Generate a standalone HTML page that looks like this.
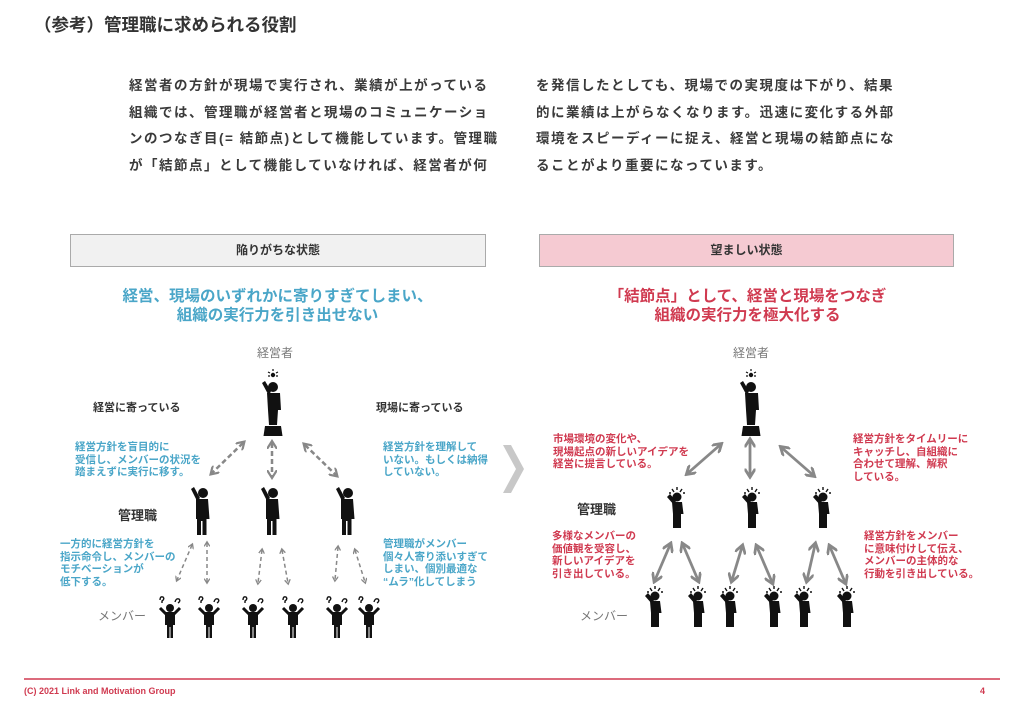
<!DOCTYPE html>
<html><head><meta charset="utf-8">
<style>
*{margin:0;padding:0;box-sizing:border-box}
body{width:1024px;height:709px;background:#fff;position:relative;overflow:hidden;font-family:"Liberation Sans","Noto Sans CJK JP",sans-serif;color:#333}
.a{position:absolute;white-space:nowrap}
.title{left:34px;top:12px;font-size:17.5px;font-weight:bold;color:#333}
.para{font-size:13.5px;font-weight:bold;line-height:26.5px;color:#3a3a3a;letter-spacing:1.5px}
.box{position:absolute;top:234px;height:33px;border:1.5px solid #aaa;font-size:12px;font-weight:bold;text-align:center;line-height:30px;color:#333}
.h{font-size:15.5px;font-weight:bold;text-align:center;line-height:19px}
.blue{color:#4aa6c8}
.red{color:#d03a50}
.s{font-size:10.5px;font-weight:bold;line-height:12.5px}
.g{font-size:12px;color:#777}
.lb{font-size:11px;font-weight:bold;color:#333}
.mg{font-size:13px;font-weight:bold;color:#333}
</style></head><body>
<div class="a title">（参考）管理職に求められる役割</div>
<div class="a para" style="left:129px;top:73px">経営者の方針が現場で実行され、業績が上がっている<br>組織では、管理職が経営者と現場のコミュニケーショ<br>ンのつなぎ目(= 結節点)として機能しています。管理職<br>が「結節点」として機能していなければ、経営者が何</div>
<div class="a para" style="left:536px;top:73px">を発信したとしても、現場での実現度は下がり、結果<br>的に業績は上がらなくなります。迅速に変化する外部<br>環境をスピーディーに捉え、経営と現場の結節点にな<br>ることがより重要になっています。</div>

<div class="box" style="left:70px;width:416px;background:#f1f1f1">陥りがちな状態</div>
<div class="box" style="left:539px;width:415px;background:#f5cad2">望ましい状態</div>

<div class="a h blue" style="left:60px;width:435px;top:287px">経営、現場のいずれかに寄りすぎてしまい、<br>組織の実行力を引き出せない</div>
<div class="a h red" style="left:530px;width:435px;top:287px">「結節点」として、経営と現場をつなぎ<br>組織の実行力を極大化する</div>

<div class="a g" style="left:257px;top:344px">経営者</div>
<div class="a g" style="left:733px;top:344px">経営者</div>
<div class="a lb" style="left:93px;top:399px">経営に寄っている</div>
<div class="a lb" style="left:376px;top:399px">現場に寄っている</div>
<div class="a s blue" style="left:75px;top:441px">経営方針を盲目的に<br>受信し、メンバーの状況を<br>踏まえずに実行に移す。</div>
<div class="a s blue" style="left:383px;top:441px">経営方針を理解して<br>いない。もしくは納得<br>していない。</div>
<div class="a mg" style="left:118px;top:505px">管理職</div>
<div class="a s blue" style="left:60px;top:538px">一方的に経営方針を<br>指示命令し、メンバーの<br>モチベーションが<br>低下する。</div>
<div class="a s blue" style="left:383px;top:538px">管理職がメンバー<br>個々人寄り添いすぎて<br>しまい、個別最適な<br>“ムラ”化してしまう</div>
<div class="a g" style="left:98px;top:607px">メンバー</div>

<div class="a s red" style="left:553px;top:433px">市場環境の変化や、<br>現場起点の新しいアイデアを<br>経営に提言している。</div>
<div class="a s red" style="left:853px;top:433px">経営方針をタイムリーに<br>キャッチし、自組織に<br>合わせて理解、解釈<br>している。</div>
<div class="a mg" style="left:577px;top:499px">管理職</div>
<div class="a s red" style="left:552px;top:530px">多様なメンバーの<br>価値観を受容し、<br>新しいアイデアを<br>引き出している。</div>
<div class="a s red" style="left:864px;top:530px">経営方針をメンバー<br>に意味付けして伝え、<br>メンバーの主体的な<br>行動を引き出している。</div>
<div class="a g" style="left:580px;top:607px">メンバー</div>

<svg class="a" style="left:0;top:0" width="1024" height="709" viewBox="0 0 1024 709">
<defs>
<marker id="ah" viewBox="0 0 10 10" refX="6" refY="5" markerWidth="4" markerHeight="4" orient="auto-start-reverse"><path d="M0,0 L8,5 L0,10" fill="none" stroke="#888" stroke-width="2.2"/></marker>
<marker id="ahs" viewBox="0 0 10 10" refX="6" refY="5" markerWidth="4" markerHeight="4" orient="auto-start-reverse"><path d="M0,0 L8,5 L0,10" fill="none" stroke="#888" stroke-width="2.5"/></marker>
<g id="body">
<circle cx="1" cy="5" r="5" fill="#111"/>
<path d="M-6,11 L6,11 L7.5,31 L4.5,31 L4.5,47 L0.5,47 L0.5,33 L-1,33 L-1,47 L-5,47 L-5,31 L-6,31 Z" fill="#111"/>
<path d="M-5,13 L-11,1 L-8,-1 L-2,10 Z" fill="#111"/>
</g>
<g id="leader">
<circle cx="0" cy="0" r="2.2" fill="#111"/>
<path d="M0,-6V-4M-5,-3L-3,-2M5,-3L3,-2M-5,1H-3M5,1H3" stroke="#111" stroke-width="1.2"/>
<circle cx="0" cy="12" r="5" fill="#111"/>
<path d="M-6,18 L7,18 L8,35 L5,35 L4,50 L-4,50 L-5,35 Z" fill="#111"/>
<path d="M-4,21 L-11,8 L-8,6 L-2,16 Z" fill="#111"/>
<path d="M-8,51 L8,51 L9.5,61 L-9.5,61 Z" fill="#111"/>
</g>
<g id="mq">
<circle cx="0" cy="8" r="4" fill="#111"/>
<path d="M-5,12 L5,12 L5,25 L3,25 L3,38 L0.5,38 L0.5,27 L-0.5,27 L-0.5,38 L-3,38 L-3,25 L-5,25 Z" fill="#111"/>
<path d="M-4,14 L-10,8 M4,14 L10,8" stroke="#111" stroke-width="3"/>
<path d="M-10,0 q0,-4 3,-3 q2,2 -1,4 l0,2 M5,2 q1,-4 4,-3 q2,2 -1,4" fill="none" stroke="#111" stroke-width="1.4"/>
</g>
<g id="mi">
<circle cx="0" cy="6" r="4.5" fill="#111"/>
<path d="M-5,11 L5,11 L6.5,23 L4,23 L4,37 L-4,37 L-4,23 Z" fill="#111"/>
<path d="M-3,14 L-10,6 L-7,3 L-1,10 Z" fill="#111"/>
<path d="M0,-4V-1M-5,-2L-3,1M5,-2L3,1M-8,2H-6M8,2H6" stroke="#111" stroke-width="1.4"/>
</g>
</defs>
<!-- left -->
<use href="#leader" x="273" y="375"/>
<use href="#body" x="202" y="488"/>
<use href="#body" x="272" y="488"/>
<use href="#body" x="347" y="488"/>
<use href="#mq" x="170" y="600"/>
<use href="#mq" x="209" y="600"/>
<use href="#mq" x="253" y="600"/>
<use href="#mq" x="293" y="600"/>
<use href="#mq" x="337" y="600"/>
<use href="#mq" x="369" y="600"/>
<g stroke="#888" stroke-width="2.5" stroke-dasharray="5,3" fill="none" marker-start="url(#ah)" marker-end="url(#ah)">
<line x1="243" y1="443" x2="212" y2="473"/>
<line x1="272" y1="443" x2="272" y2="476"/>
<line x1="305" y1="445" x2="336" y2="475"/>
</g>
<g stroke="#888" stroke-width="1.5" stroke-dasharray="4,3" fill="none" marker-start="url(#ah)" marker-end="url(#ah)">
<line x1="192" y1="545" x2="177" y2="580"/>
<line x1="207" y1="543" x2="207" y2="582"/>
<line x1="262" y1="550" x2="258" y2="583"/>
<line x1="282" y1="550" x2="288" y2="583"/>
<line x1="338" y1="547" x2="335" y2="580"/>
<line x1="355" y1="550" x2="365" y2="582"/>
</g>
<!-- chevron -->
<path d="M503,445 L511,445 L524,469 L511,493 L503,493 L516,469 Z" fill="#c8c8c8"/>
<!-- right -->
<use href="#leader" x="751" y="375"/>
<use href="#mi" x="677" y="491"/>
<use href="#mi" x="752" y="491"/>
<use href="#mi" x="823" y="491"/>
<use href="#mi" x="655" y="590"/>
<use href="#mi" x="698" y="590"/>
<use href="#mi" x="730" y="590"/>
<use href="#mi" x="774" y="590"/>
<use href="#mi" x="804" y="590"/>
<use href="#mi" x="847" y="590"/>
<g stroke="#888" stroke-width="2.8" fill="none" marker-start="url(#ahs)" marker-end="url(#ahs)">
<line x1="720" y1="445" x2="688" y2="473"/>
<line x1="750" y1="441" x2="750" y2="475"/>
<line x1="782" y1="448" x2="813" y2="475"/>
<line x1="670" y1="545" x2="655" y2="580"/>
<line x1="683" y1="545" x2="698" y2="580"/>
<line x1="742" y1="547" x2="732" y2="580"/>
<line x1="757" y1="547" x2="772" y2="582"/>
<line x1="815" y1="545" x2="807" y2="580"/>
<line x1="830" y1="547" x2="845" y2="582"/>
</g>
<line x1="24" y1="679" x2="1000" y2="679" stroke="#d03a50" stroke-width="1.5"/>
</svg>
<div class="a" style="left:24px;top:686px;font-size:9px;font-weight:bold;color:#d03a50">(C) 2021 Link and Motivation Group</div>
<div class="a" style="left:980px;top:686px;font-size:9px;font-weight:bold;color:#d03a50">4</div>
</body></html>
